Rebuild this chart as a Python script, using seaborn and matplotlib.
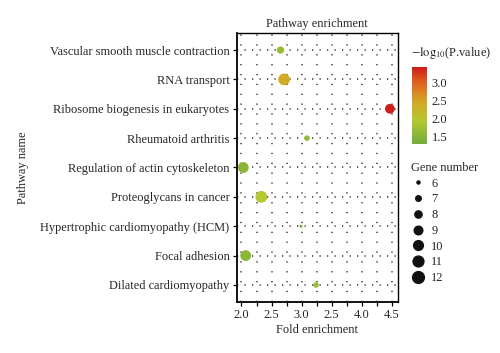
import numpy as np
import pandas as pd
import matplotlib
matplotlib.use('Agg')
import matplotlib.pyplot as plt
import seaborn as sns
from matplotlib.colors import LinearSegmentedColormap, Normalize
from matplotlib.lines import Line2D

# ----------------------- data

pathways = [
	'Vascular smooth muscle contraction',
	'RNA transport',
	'Ribosome biogenesis in eukaryotes',
	'Rheumatoid arthritis',
	'Regulation of actin cytoskeleton',
	'Proteoglycans in cancer',
	'Hypertrophic cardiomyopathy (HCM)',
	'Focal adhesion',
	'Dilated cardiomyopathy',
]
fold = [2.65, 2.71, 4.47, 3.09, 2.03, 2.33, 2.99, 2.07, 3.24]
genes = [8, 12, 10, 7, 11, 12, 6, 11, 7]
logp = [1.65, 2.40, 3.40, 1.60, 1.55, 1.95, 1.45, 1.55, 1.70]

xticks = [2.0, 2.5, 3.0, 3.5, 4.0, 4.5]
xticklabels = ['2.0', '2.5', '3.0', '2.5', '4.0', '4.5']
cbar_ticks = [1.5, 2.0, 2.5, 3.0]
size_levels = [6, 7, 8, 9, 10, 11, 12]

# ----------------------- style

sns.set_style('white')
plt.rcParams['font.family'] = ['Liberation Serif', 'DejaVu Serif']
plt.rcParams['mathtext.fontset'] = 'stix'
plt.rcParams['lines.scale_dashes'] = False

FS = 8.9
cmap = LinearSegmentedColormap.from_list('g2r', [
	(0.0, '#72ab3e'), (0.3, '#b3c92f'), (0.55, '#d5a625'),
	(0.8, '#de611f'), (1.0, '#cc1b1b')])
norm = Normalize(vmin=1.30, vmax=3.44)
smin, smax = 5, 72

df = pd.DataFrame({'pathway': pathways, 'fold': fold, 'genes': genes, 'logp': logp})

fig = plt.figure(figsize=(5, 3.53), dpi=100)
ax = fig.add_axes([0.473, 0.1445, 0.323, 0.762])

sns.scatterplot(data=df, x='fold', y='pathway', hue='logp', size='genes',
	palette=cmap, hue_norm=norm, sizes=(smin, smax), size_norm=(6, 12),
	legend=False, edgecolor='none', linewidth=0, zorder=3, ax=ax)

ax.set_xlim(1.917, 4.605)
ax.set_ylim(len(pathways) - 1 + 0.58, -0.58)

ax.set_xticks(xticks)
ax.set_xticklabels(xticklabels, fontsize=FS)
ax.set_xticks(np.arange(2.0, 4.51, 0.25), minor=True)
ax.set_yticks(range(len(pathways)))
ax.set_yticklabels(pathways, fontsize=FS)
ax.tick_params(axis='both', which='both', direction='out', length=3, width=0.9,
	color='black', left=True, bottom=True, pad=2)

# dotted lattice grid
ax.grid(False)
for xv in np.arange(2.0, 4.51, 0.25):
	ax.axvline(xv, color='#333333', lw=1.1, ls=(0, (0.9, 6.2)), zorder=1)
for yv in range(len(pathways)):
	ax.axhline(yv, color='#333333', lw=1.1, ls=(0, (0.9, 4.5)), zorder=1)

for s in ax.spines.values():
	s.set_color('black')
	s.set_linewidth(1.0)
ax.spines['left'].set_linewidth(1.3)
ax.spines['bottom'].set_linewidth(1.3)

ax.set_xlabel('Fold enrichment', fontsize=FS, labelpad=2)
ax.set_ylabel('Pathway name', fontsize=FS, labelpad=8)
ax.set_title('Pathway enrichment', fontsize=FS, pad=4)

# colorbar
cax = fig.add_axes([0.8246, 0.592, 0.03, 0.219])
sm = plt.cm.ScalarMappable(cmap=cmap, norm=norm)
cb = fig.colorbar(sm, cax=cax, ticks=cbar_ticks)
cb.outline.set_visible(False)
cb.ax.tick_params(length=3, color='white', width=0.6, direction='in', pad=3, labelsize=FS)
cb.ax.set_yticklabels(['%.1f' % t for t in cbar_ticks])
fig.text(0.822, 0.826, r'$-\mathrm{log}_{10}$(P.value)', fontsize=FS, va='bottom')

# size legend
handles = [Line2D([], [], ls='none', marker='o', color='#111111',
	markersize=np.sqrt(smin + (g - 6) / 6 * (smax - smin))) for g in size_levels]
leg = fig.legend(handles, [str(g) for g in size_levels], title='Gene number',
	loc='upper left', bbox_to_anchor=(0.813, 0.555), frameon=False,
	fontsize=FS, title_fontsize=FS, handlelength=1.0, handletextpad=0.6,
	labelspacing=0.3, alignment='left', borderaxespad=0)

plt.savefig('out.png', dpi=100)
